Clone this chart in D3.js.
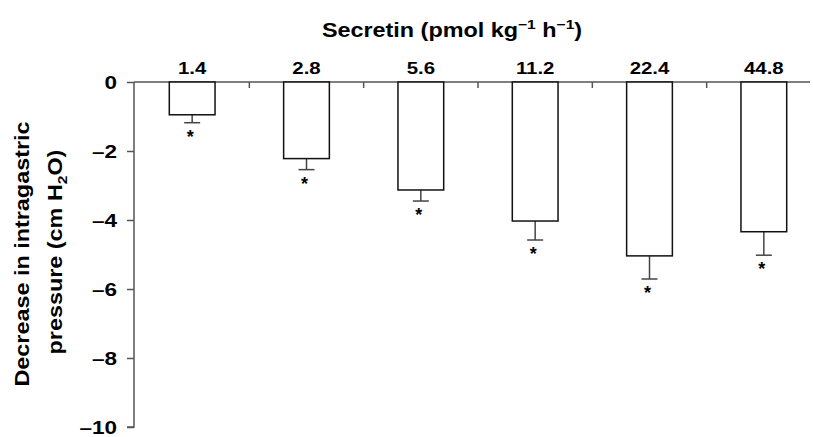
<!DOCTYPE html>
<html><head><meta charset="utf-8">
<script src="https://cdn.jsdelivr.net/npm/d3@7"></script>
<style>body{margin:0;background:#fff;} text{font-family:"Liberation Sans",Arial,sans-serif;font-weight:bold;}</style>
</head><body><svg id="c" width="813" height="437"></svg>
<script>
const categories = ["1.4","2.8","5.6","11.2","22.4","44.8"];
const means = [-0.95,-2.22,-3.13,-4.03,-5.04,-4.34];
const errors = [0.23,0.32,0.32,0.55,0.67,0.68];
const yTicks = [0,-2,-4,-6,-8,-10];
const SX = 1.2;

const svg = d3.select("#c");
const x = d3.scaleBand().domain(categories).range([135,821]).paddingInner(0.6).paddingOuter(0.3);
const y = d3.scaleLinear().domain([-10,0]).range([427,82]);

function stext(parent, px, py, anchor, size, rot, sx){
  return parent.append("text")
    .attr("transform",`translate(${px},${py})${rot?` rotate(${rot})`:""} scale(${sx||SX},1)`)
    .attr("text-anchor",anchor).attr("font-size",size);
}

// y axis
const ya = svg.append("g").attr("transform","translate(134,0)")
  .call(d3.axisLeft(y).tickValues(yTicks).tickSize(7).tickFormat(""));
ya.select(".domain").attr("stroke","#555").attr("stroke-width",1.5).attr("d","M0,82V427H-7");
ya.selectAll(".tick line").attr("stroke","#555").attr("stroke-width",1.5);
yTicks.forEach(v=>{
  stext(svg,117,y(v)+6.5,"end",18,0,1.25).text(v===0?"0":"\u2013"+Math.abs(v));
});

// top x axis line
svg.append("line").attr("x1",134).attr("x2",810).attr("y1",y(0)).attr("y2",y(0)).attr("stroke","#555").attr("stroke-width",1.5);
const step = x.step();
categories.slice(1).forEach((c)=>{
  const bx = x(c) - (step - x.bandwidth())/2;
  svg.append("line").attr("x1",bx).attr("x2",bx).attr("y1",y(0)).attr("y2",y(0)+6).attr("stroke","#555").attr("stroke-width",1.5);
});
// category labels
categories.forEach(c=>{
  stext(svg,x(c)+x.bandwidth()/2,74,"middle",17).text(c);
});

// error bars
const data = categories.map((c,i)=>({c,m:means[i],e:errors[i]}));
const eb = svg.append("g").attr("stroke","#444").attr("stroke-width",1.5);
data.forEach(d=>{
  const cx = x(d.c)+x.bandwidth()/2;
  eb.append("line").attr("x1",cx).attr("x2",cx).attr("y1",y(d.m)).attr("y2",y(d.m-d.e));
  eb.append("line").attr("x1",cx-8).attr("x2",cx+8).attr("y1",y(d.m-d.e)).attr("y2",y(d.m-d.e));
});
// bars
svg.selectAll(".bar").data(data).enter().append("rect")
  .attr("x",d=>x(d.c)).attr("width",x.bandwidth())
  .attr("y",y(0)).attr("height",d=>y(d.m)-y(0))
  .attr("fill","#fff").attr("stroke","#111").attr("stroke-width",1.5);
// stars
svg.selectAll(".star").data(data).enter().append("text")
  .attr("x",d=>x(d.c)+x.bandwidth()/2-2).attr("y",d=>y(d.m-d.e)+20)
  .attr("text-anchor","middle").attr("font-size",18).text("*");

// title
const t = stext(svg,452,37,"middle",19.5);
t.append("tspan").text("Secretin (pmol kg");
t.append("tspan").attr("dy",-8).attr("font-size",13).text("\u22121");
t.append("tspan").attr("dy",8).text(" h");
t.append("tspan").attr("dy",-8).attr("font-size",13).text("\u22121");
t.append("tspan").attr("dy",8).text(")");

// y label
stext(svg,29,254,"middle",19.5,-90).text("Decrease in intragastric");
const l2 = stext(svg,62,252,"middle",19.5,-90);
l2.append("tspan").text("pressure (cm H");
l2.append("tspan").attr("dy",5).attr("font-size",13).text("2");
l2.append("tspan").attr("dy",-5).text("O)");
</script></body></html>
